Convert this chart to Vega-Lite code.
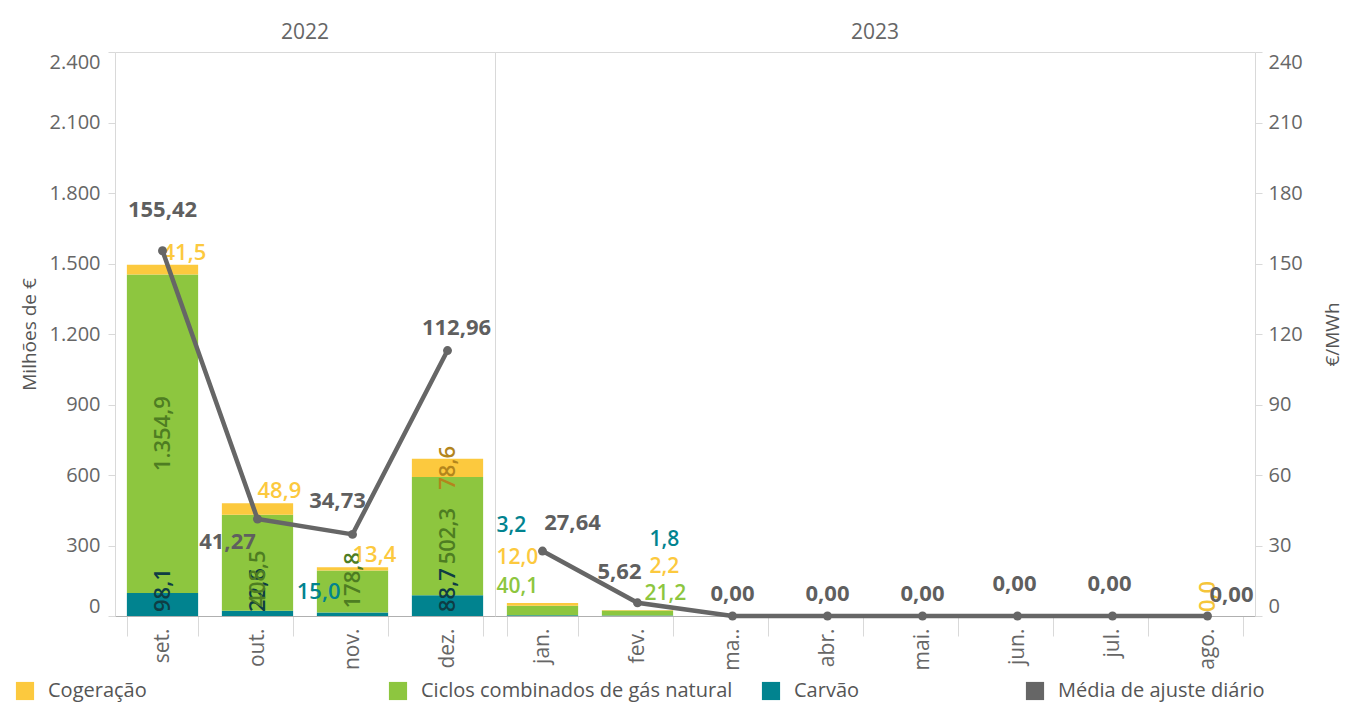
{
  "$schema": "https://vega.github.io/schema/vega-lite/v6.json",
  "padding": {"left": 15, "top": 20, "right": 4, "bottom": 5},
  "background": "white",
  "bounds": "flush",
  "config": {
    "font": "Open Sans",
    "locale": {"number": {"decimal": ",", "thousands": ".", "grouping": [3], "currency": ["", " €"]}},
    "view": {"stroke": "#d9d9d9", "strokeWidth": 1},
    "axis": {"labelFont": "Open Sans", "labelColor": "#666666", "labelFontSize": 20, "titleFont": "Open Sans", "titleColor": "#555555", "titleFontSize": 19, "titleFontWeight": "normal", "tickColor": "#d9d9d9", "domainColor": "#d9d9d9", "grid": false},
    "legend": {"labelFont": "Open Sans", "labelFontSize": 20, "labelColor": "#555555", "labelLimit": 400},
    "text": {"font": "Open Sans", "fontSize": 22, "fontWeight": 600}
  },
  "data": {"values": [
    {"ano": "2022", "mes": "set.", "serie": "Carvão", "valor": 98.1},
    {"ano": "2022", "mes": "set.", "serie": "Ciclos combinados de gás natural", "valor": 1354.9},
    {"ano": "2022", "mes": "set.", "serie": "Cogeração", "valor": 41.5},
    {"ano": "2022", "mes": "set.", "serie": "Média de ajuste diário", "valor": 155.42},
    {"ano": "2022", "mes": "out.", "serie": "Carvão", "valor": 22.6},
    {"ano": "2022", "mes": "out.", "serie": "Ciclos combinados de gás natural", "valor": 408.5},
    {"ano": "2022", "mes": "out.", "serie": "Cogeração", "valor": 48.9},
    {"ano": "2022", "mes": "out.", "serie": "Média de ajuste diário", "valor": 41.27},
    {"ano": "2022", "mes": "nov.", "serie": "Carvão", "valor": 15.0},
    {"ano": "2022", "mes": "nov.", "serie": "Ciclos combinados de gás natural", "valor": 178.8},
    {"ano": "2022", "mes": "nov.", "serie": "Cogeração", "valor": 13.4},
    {"ano": "2022", "mes": "nov.", "serie": "Média de ajuste diário", "valor": 34.73},
    {"ano": "2022", "mes": "dez.", "serie": "Carvão", "valor": 88.7},
    {"ano": "2022", "mes": "dez.", "serie": "Ciclos combinados de gás natural", "valor": 502.3},
    {"ano": "2022", "mes": "dez.", "serie": "Cogeração", "valor": 78.6},
    {"ano": "2022", "mes": "dez.", "serie": "Média de ajuste diário", "valor": 112.96},
    {"ano": "2023", "mes": "jan.", "serie": "Carvão", "valor": 3.2},
    {"ano": "2023", "mes": "jan.", "serie": "Ciclos combinados de gás natural", "valor": 40.1},
    {"ano": "2023", "mes": "jan.", "serie": "Cogeração", "valor": 12.0},
    {"ano": "2023", "mes": "jan.", "serie": "Média de ajuste diário", "valor": 27.64},
    {"ano": "2023", "mes": "fev.", "serie": "Carvão", "valor": 1.8},
    {"ano": "2023", "mes": "fev.", "serie": "Ciclos combinados de gás natural", "valor": 21.2},
    {"ano": "2023", "mes": "fev.", "serie": "Cogeração", "valor": 2.2},
    {"ano": "2023", "mes": "fev.", "serie": "Média de ajuste diário", "valor": 5.62},
    {"ano": "2023", "mes": "mar.", "serie": "Média de ajuste diário", "valor": 0},
    {"ano": "2023", "mes": "abr.", "serie": "Média de ajuste diário", "valor": 0},
    {"ano": "2023", "mes": "mai.", "serie": "Média de ajuste diário", "valor": 0},
    {"ano": "2023", "mes": "jun.", "serie": "Média de ajuste diário", "valor": 0},
    {"ano": "2023", "mes": "jul.", "serie": "Média de ajuste diário", "valor": 0},
    {"ano": "2023", "mes": "ago.", "serie": "Cogeração", "valor": 0},
    {"ano": "2023", "mes": "ago.", "serie": "Média de ajuste diário", "valor": 0}
  ]},
  "spacing": 0,
  "hconcat": [
    {
      "width": 380,
      "height": 564,
      "transform": [{"filter": "datum.ano === '2022'"}],
      "layer": [
        {
          "mark": {"type": "tick", "opacity": 0},
          "encoding": {"x": {"field": "ano", "type": "nominal", "axis": {"orient": "top", "title": null, "ticks": false, "domain": false, "labelAngle": 0, "labelFontSize": 21, "labelColor": "#666666", "labelPadding": 10}}}
        },
        {
          "transform": [
            {"filter": "datum.serie !== 'Média de ajuste diário'"},
            {"stack": "valor", "groupby": ["ano", "mes"], "sort": [{"field": "serie", "order": "ascending"}], "as": ["lo", "hi"]}
          ],
          "encoding": {
            "x": {"field": "mes", "type": "nominal",
              "scale": {"domain": ["set.", "out.", "nov.", "dez."], "paddingInner": 0.25, "paddingOuter": 0.125},
              "axis": {"orient": "bottom", "title": null, "labelAngle": 270, "labelFontSize": 21, "labelColor": "#666666", "tickBand": "extent", "tickSize": 20, "tickColor": "#d9d9d9", "domainColor": "#b0b0b0", "labelPadding": -8}}
          },
          "layer": [
            {
              "mark": {"type": "bar"},
              "encoding": {
                "y": {"field": "lo", "type": "quantitative", "stack": null, "scale": {"domain": [0, 2400], "nice": false},
                  "axis": {"orient": "left", "title": "Milhões de €", "values": [0, 300, 600, 900, 1200, 1500, 1800, 2100, 2400], "format": ",.0f", "labelFlush": true, "tickSize": 7, "labelPadding": 8, "titlePadding": 10, "domain": false}},
                "y2": {"field": "hi"},
                "color": {"field": "serie", "type": "nominal",
                  "scale": {"domain": ["Cogeração", "Ciclos combinados de gás natural", "Carvão"], "range": ["#FCC93E", "#8DC63F", "#01838F"]},
                  "legend": {"orient": "none", "legendX": -100, "legendY": 629, "direction": "horizontal", "columns": 3, "title": null, "symbolType": "square", "symbolSize": 330, "symbolStrokeWidth": 0, "labelOffset": 13, "columnPadding": 28, "gridAlign": "all"}}
              }
            },
            {
              "transform": [{"filter": "(datum.serie === 'Carvão' && datum.mes !== 'nov.') || (datum.serie === 'Ciclos combinados de gás natural' && (datum.mes === 'out.' || datum.mes === 'nov.'))"}],
              "mark": {"type": "text", "angle": 270, "align": "left", "baseline": "middle", "dx": 4},
              "encoding": {
                "y": {"field": "lo", "type": "quantitative", "stack": null, "scale": {"domain": [0, 2400], "nice": false}},
                "text": {"field": "valor", "type": "quantitative", "format": ",.1f"},
                "color": {"condition": {"test": "datum.serie === 'Carvão'", "value": "#0e3d44"}, "value": "#4e7d22"}
              }
            },
            {
              "transform": [
                {"filter": "(datum.serie === 'Ciclos combinados de gás natural' && (datum.mes === 'set.' || datum.mes === 'dez.')) || (datum.serie === 'Cogeração' && datum.mes === 'dez.')"},
                {"fold": ["lo", "hi"], "as": ["k", "v"]},
                {"aggregate": [{"op": "mean", "field": "v", "as": "mid"}], "groupby": ["ano", "mes", "serie", "valor"]}
              ],
              "mark": {"type": "text", "angle": 270, "align": "center", "baseline": "middle"},
              "encoding": {
                "y": {"field": "mid", "type": "quantitative", "stack": null, "scale": {"domain": [0, 2400], "nice": false}},
                "text": {"field": "valor", "type": "quantitative", "format": ",.1f"},
                "color": {"condition": {"test": "datum.serie === 'Cogeração'", "value": "#b3851c"}, "value": "#4e7d22"}
              }
            },
            {
              "transform": [{"filter": "datum.serie === 'Cogeração' && datum.mes !== 'dez.'"}],
              "mark": {"type": "text", "align": "left", "baseline": "alphabetic", "dy": -5, "color": "#FCC93E"},
              "encoding": {
                "y": {"field": "hi", "type": "quantitative", "stack": null, "scale": {"domain": [0, 2400], "nice": false}},
                "text": {"field": "valor", "type": "quantitative", "format": ",.1f"}
              }
            },
            {
              "transform": [{"filter": "datum.serie === 'Carvão' && datum.mes === 'nov.'"}],
              "mark": {"type": "text", "align": "right", "baseline": "middle", "dx": -12, "dy": -20, "color": "#01838F"},
              "encoding": {
                "y": {"field": "hi", "type": "quantitative", "stack": null, "scale": {"domain": [0, 2400], "nice": false}},
                "text": {"field": "valor", "type": "quantitative", "format": ",.1f"}
              }
            }
          ]
        },
        {
          "transform": [{"filter": "datum.serie === 'Média de ajuste diário'"}],
          "encoding": {
            "x": {"field": "mes", "type": "nominal", "scale": {"domain": ["set.", "out.", "nov.", "dez."], "paddingInner": 0.25, "paddingOuter": 0.125}, "axis": null}
          },
          "layer": [
            {
              "mark": {"type": "line", "color": "#666666", "strokeWidth": 4.5},
              "encoding": {"y": {"field": "valor", "type": "quantitative", "scale": {"domain": [0, 240], "nice": false}, "axis": null}}
            },
            {
              "mark": {"type": "point", "filled": true, "opacity": 1, "size": 80, "strokeWidth": 0},
              "encoding": {
                "y": {"field": "valor", "type": "quantitative", "scale": {"domain": [0, 240], "nice": false}, "axis": null},
                "fill": {"field": "serie", "type": "nominal", "scale": {"domain": ["Média de ajuste diário"], "range": ["#666666"]},
                  "legend": {"orient": "none", "legendX": 910, "legendY": 629, "title": null, "symbolType": "square", "symbolSize": 330, "symbolStrokeWidth": 0, "labelOffset": 13}}
              }
            },
            {
              "transform": [{"filter": "datum.mes === 'dez.'"}],
              "mark": {"type": "text", "fontWeight": "bold", "align": "center", "baseline": "middle", "dx": 9, "dy": -23, "color": "#5f5f5f"},
              "encoding": {"y": {"field": "valor", "type": "quantitative", "scale": {"domain": [0, 240], "nice": false}, "axis": null}, "text": {"field": "valor", "type": "quantitative", "format": ",.2f"}}
            },
            {
              "transform": [{"filter": "datum.mes === 'set.'"}],
              "mark": {"type": "text", "fontWeight": "bold", "align": "center", "baseline": "middle", "dy": -41, "color": "#5f5f5f"},
              "encoding": {"y": {"field": "valor", "type": "quantitative", "scale": {"domain": [0, 240], "nice": false}, "axis": null}, "text": {"field": "valor", "type": "quantitative", "format": ",.2f"}}
            },
            {
              "transform": [{"filter": "datum.mes === 'out.'"}],
              "mark": {"type": "text", "fontWeight": "bold", "align": "center", "baseline": "middle", "dx": -30, "dy": 23, "color": "#5f5f5f"},
              "encoding": {"y": {"field": "valor", "type": "quantitative", "scale": {"domain": [0, 240], "nice": false}, "axis": null}, "text": {"field": "valor", "type": "quantitative", "format": ",.2f"}}
            },
            {
              "transform": [{"filter": "datum.mes === 'nov.'"}],
              "mark": {"type": "text", "fontWeight": "bold", "align": "center", "baseline": "middle", "dx": -15, "dy": -33, "color": "#5f5f5f"},
              "encoding": {"y": {"field": "valor", "type": "quantitative", "scale": {"domain": [0, 240], "nice": false}, "axis": null}, "text": {"field": "valor", "type": "quantitative", "format": ",.2f"}}
            }
          ]
        }
      ],
      "resolve": {"scale": {"x": "independent", "y": "independent"}}
    },
    {
      "width": 760,
      "height": 564,
      "transform": [{"filter": "datum.ano === '2023'"}],
      "layer": [
        {
          "mark": {"type": "tick", "opacity": 0},
          "encoding": {"x": {"field": "ano", "type": "nominal", "axis": {"orient": "top", "title": null, "ticks": false, "domain": false, "labelAngle": 0, "labelFontSize": 21, "labelColor": "#666666", "labelPadding": 10}}}
        },
        {
          "transform": [
            {"filter": "datum.serie !== 'Média de ajuste diário'"},
            {"stack": "valor", "groupby": ["ano", "mes"], "sort": [{"field": "serie", "order": "ascending"}], "as": ["lo", "hi"]},
            {"joinaggregate": [{"op": "sum", "field": "valor", "as": "total"}], "groupby": ["ano", "mes"]}
          ],
          "encoding": {
            "x": {"field": "mes", "type": "nominal",
              "scale": {"domain": ["jan.", "fev.", "mar.", "abr.", "mai.", "jun.", "jul.", "ago."], "paddingInner": 0.25, "paddingOuter": 0.125},
              "axis": {"orient": "bottom", "title": null, "labelAngle": 270, "labelFontSize": 21, "labelColor": "#666666", "tickBand": "extent", "tickSize": 20, "tickColor": "#d9d9d9", "domainColor": "#b0b0b0", "labelPadding": -8, "labelExpr": "datum.value === 'mar.' ? 'ma..' : datum.value"}}
          },
          "layer": [
            {
              "mark": {"type": "bar"},
              "encoding": {
                "y": {"field": "lo", "type": "quantitative", "stack": null, "scale": {"domain": [0, 2400], "nice": false}, "axis": null},
                "y2": {"field": "hi"},
                "color": {"field": "serie", "type": "nominal",
                  "scale": {"domain": ["Cogeração", "Ciclos combinados de gás natural", "Carvão"], "range": ["#FCC93E", "#8DC63F", "#01838F"]},
                  "legend": {"orient": "none", "legendX": -100, "legendY": 629, "direction": "horizontal", "columns": 3, "title": null, "symbolType": "square", "symbolSize": 330, "symbolStrokeWidth": 0, "labelOffset": 13, "columnPadding": 28, "gridAlign": "all"}}
              }
            },
            {
              "transform": [{"filter": "datum.mes === 'ago.'"}],
              "mark": {"type": "text", "angle": 270, "align": "left", "baseline": "middle", "dx": 4, "color": "#F5C53A"},
              "encoding": {
                "y": {"field": "lo", "type": "quantitative", "stack": null, "scale": {"domain": [0, 2400], "nice": false}, "axis": null},
                "text": {"field": "valor", "type": "quantitative", "format": ",.1f"}
              }
            },
            {
              "transform": [{"filter": "datum.mes === 'jan.' && datum.serie === 'Ciclos combinados de gás natural'"}],
              "mark": {"type": "text", "align": "left", "baseline": "middle", "dx": -46, "dy": -16, "fontSize": 21, "color": "#8DC63F"},
              "encoding": {"y": {"field": "total", "type": "quantitative", "stack": null, "scale": {"domain": [0, 2400], "nice": false}, "axis": null}, "text": {"field": "valor", "type": "quantitative", "format": ",.1f"}}
            },
            {
              "transform": [{"filter": "datum.mes === 'jan.' && datum.serie === 'Cogeração'"}],
              "mark": {"type": "text", "align": "left", "baseline": "middle", "dx": -46, "dy": -45, "fontSize": 21, "color": "#FCC93E"},
              "encoding": {"y": {"field": "total", "type": "quantitative", "stack": null, "scale": {"domain": [0, 2400], "nice": false}, "axis": null}, "text": {"field": "valor", "type": "quantitative", "format": ",.1f"}}
            },
            {
              "transform": [{"filter": "datum.mes === 'jan.' && datum.serie === 'Carvão'"}],
              "mark": {"type": "text", "align": "left", "baseline": "middle", "dx": -46, "dy": -77, "fontSize": 21, "color": "#01838F"},
              "encoding": {"y": {"field": "total", "type": "quantitative", "stack": null, "scale": {"domain": [0, 2400], "nice": false}, "axis": null}, "text": {"field": "valor", "type": "quantitative", "format": ",.1f"}}
            },
            {
              "transform": [{"filter": "datum.mes === 'fev.' && datum.serie === 'Ciclos combinados de gás natural'"}],
              "mark": {"type": "text", "align": "left", "baseline": "middle", "dx": 7, "dy": -16, "fontSize": 21, "color": "#8DC63F"},
              "encoding": {"y": {"field": "total", "type": "quantitative", "stack": null, "scale": {"domain": [0, 2400], "nice": false}, "axis": null}, "text": {"field": "valor", "type": "quantitative", "format": ",.1f"}}
            },
            {
              "transform": [{"filter": "datum.mes === 'fev.' && datum.serie === 'Cogeração'"}],
              "mark": {"type": "text", "align": "left", "baseline": "middle", "dx": 12, "dy": -43, "fontSize": 21, "color": "#FCC93E"},
              "encoding": {"y": {"field": "total", "type": "quantitative", "stack": null, "scale": {"domain": [0, 2400], "nice": false}, "axis": null}, "text": {"field": "valor", "type": "quantitative", "format": ",.1f"}}
            },
            {
              "transform": [{"filter": "datum.mes === 'fev.' && datum.serie === 'Carvão'"}],
              "mark": {"type": "text", "align": "left", "baseline": "middle", "dx": 12, "dy": -70, "fontSize": 21, "color": "#01838F"},
              "encoding": {"y": {"field": "total", "type": "quantitative", "stack": null, "scale": {"domain": [0, 2400], "nice": false}, "axis": null}, "text": {"field": "valor", "type": "quantitative", "format": ",.1f"}}
            }
          ]
        },
        {
          "transform": [{"filter": "datum.serie === 'Média de ajuste diário'"}],
          "encoding": {
            "x": {"field": "mes", "type": "nominal", "scale": {"domain": ["jan.", "fev.", "mar.", "abr.", "mai.", "jun.", "jul.", "ago."], "paddingInner": 0.25, "paddingOuter": 0.125}, "axis": null}
          },
          "layer": [
            {
              "mark": {"type": "line", "color": "#666666", "strokeWidth": 4.5},
              "encoding": {
                "y": {"field": "valor", "type": "quantitative", "scale": {"domain": [0, 240], "nice": false},
                  "axis": {"orient": "right", "title": "€/MWh", "values": [0, 30, 60, 90, 120, 150, 180, 210, 240], "format": "d", "labelFlush": true, "tickSize": 7, "labelPadding": 6, "titleAngle": 270, "titlePadding": 40, "domain": false}}
              }
            },
            {
              "mark": {"type": "point", "filled": true, "opacity": 1, "size": 80, "strokeWidth": 0},
              "encoding": {
                "y": {"field": "valor", "type": "quantitative", "scale": {"domain": [0, 240], "nice": false}},
                "fill": {"field": "serie", "type": "nominal", "scale": {"domain": ["Média de ajuste diário"], "range": ["#666666"]},
                  "legend": {"orient": "none", "legendX": 910, "legendY": 629, "title": null, "symbolType": "square", "symbolSize": 330, "symbolStrokeWidth": 0, "labelOffset": 13}}
              }
            },
            {
              "transform": [{"filter": "datum.mes === 'mar.' || datum.mes === 'abr.' || datum.mes === 'mai.'"}],
              "mark": {"type": "text", "fontWeight": "bold", "align": "center", "baseline": "middle", "dy": -22, "color": "#5f5f5f"},
              "encoding": {"y": {"field": "valor", "type": "quantitative", "scale": {"domain": [0, 240], "nice": false}}, "text": {"field": "valor", "type": "quantitative", "format": ",.2f"}}
            },
            {
              "transform": [{"filter": "datum.mes === 'jun.' || datum.mes === 'jul.'"}],
              "mark": {"type": "text", "fontWeight": "bold", "align": "center", "baseline": "middle", "dx": -3, "dy": -32, "color": "#5f5f5f"},
              "encoding": {"y": {"field": "valor", "type": "quantitative", "scale": {"domain": [0, 240], "nice": false}}, "text": {"field": "valor", "type": "quantitative", "format": ",.2f"}}
            },
            {
              "transform": [{"filter": "datum.mes === 'fev.'"}],
              "mark": {"type": "text", "fontWeight": "bold", "align": "center", "baseline": "middle", "dx": -18, "dy": -31, "color": "#5f5f5f"},
              "encoding": {"y": {"field": "valor", "type": "quantitative", "scale": {"domain": [0, 240], "nice": false}}, "text": {"field": "valor", "type": "quantitative", "format": ",.2f"}}
            },
            {
              "transform": [{"filter": "datum.mes === 'jan.'"}],
              "mark": {"type": "text", "fontWeight": "bold", "align": "center", "baseline": "middle", "dx": 30, "dy": -28, "color": "#5f5f5f"},
              "encoding": {"y": {"field": "valor", "type": "quantitative", "scale": {"domain": [0, 240], "nice": false}}, "text": {"field": "valor", "type": "quantitative", "format": ",.2f"}}
            },
            {
              "transform": [{"filter": "datum.mes === 'ago.'"}],
              "mark": {"type": "text", "fontWeight": "bold", "align": "center", "baseline": "middle", "dx": 24, "dy": -21, "color": "#5f5f5f"},
              "encoding": {"y": {"field": "valor", "type": "quantitative", "scale": {"domain": [0, 240], "nice": false}}, "text": {"field": "valor", "type": "quantitative", "format": ",.2f"}}
            }
          ]
        }
      ],
      "resolve": {"scale": {"x": "independent", "y": "independent"}}
    }
  ]
}
